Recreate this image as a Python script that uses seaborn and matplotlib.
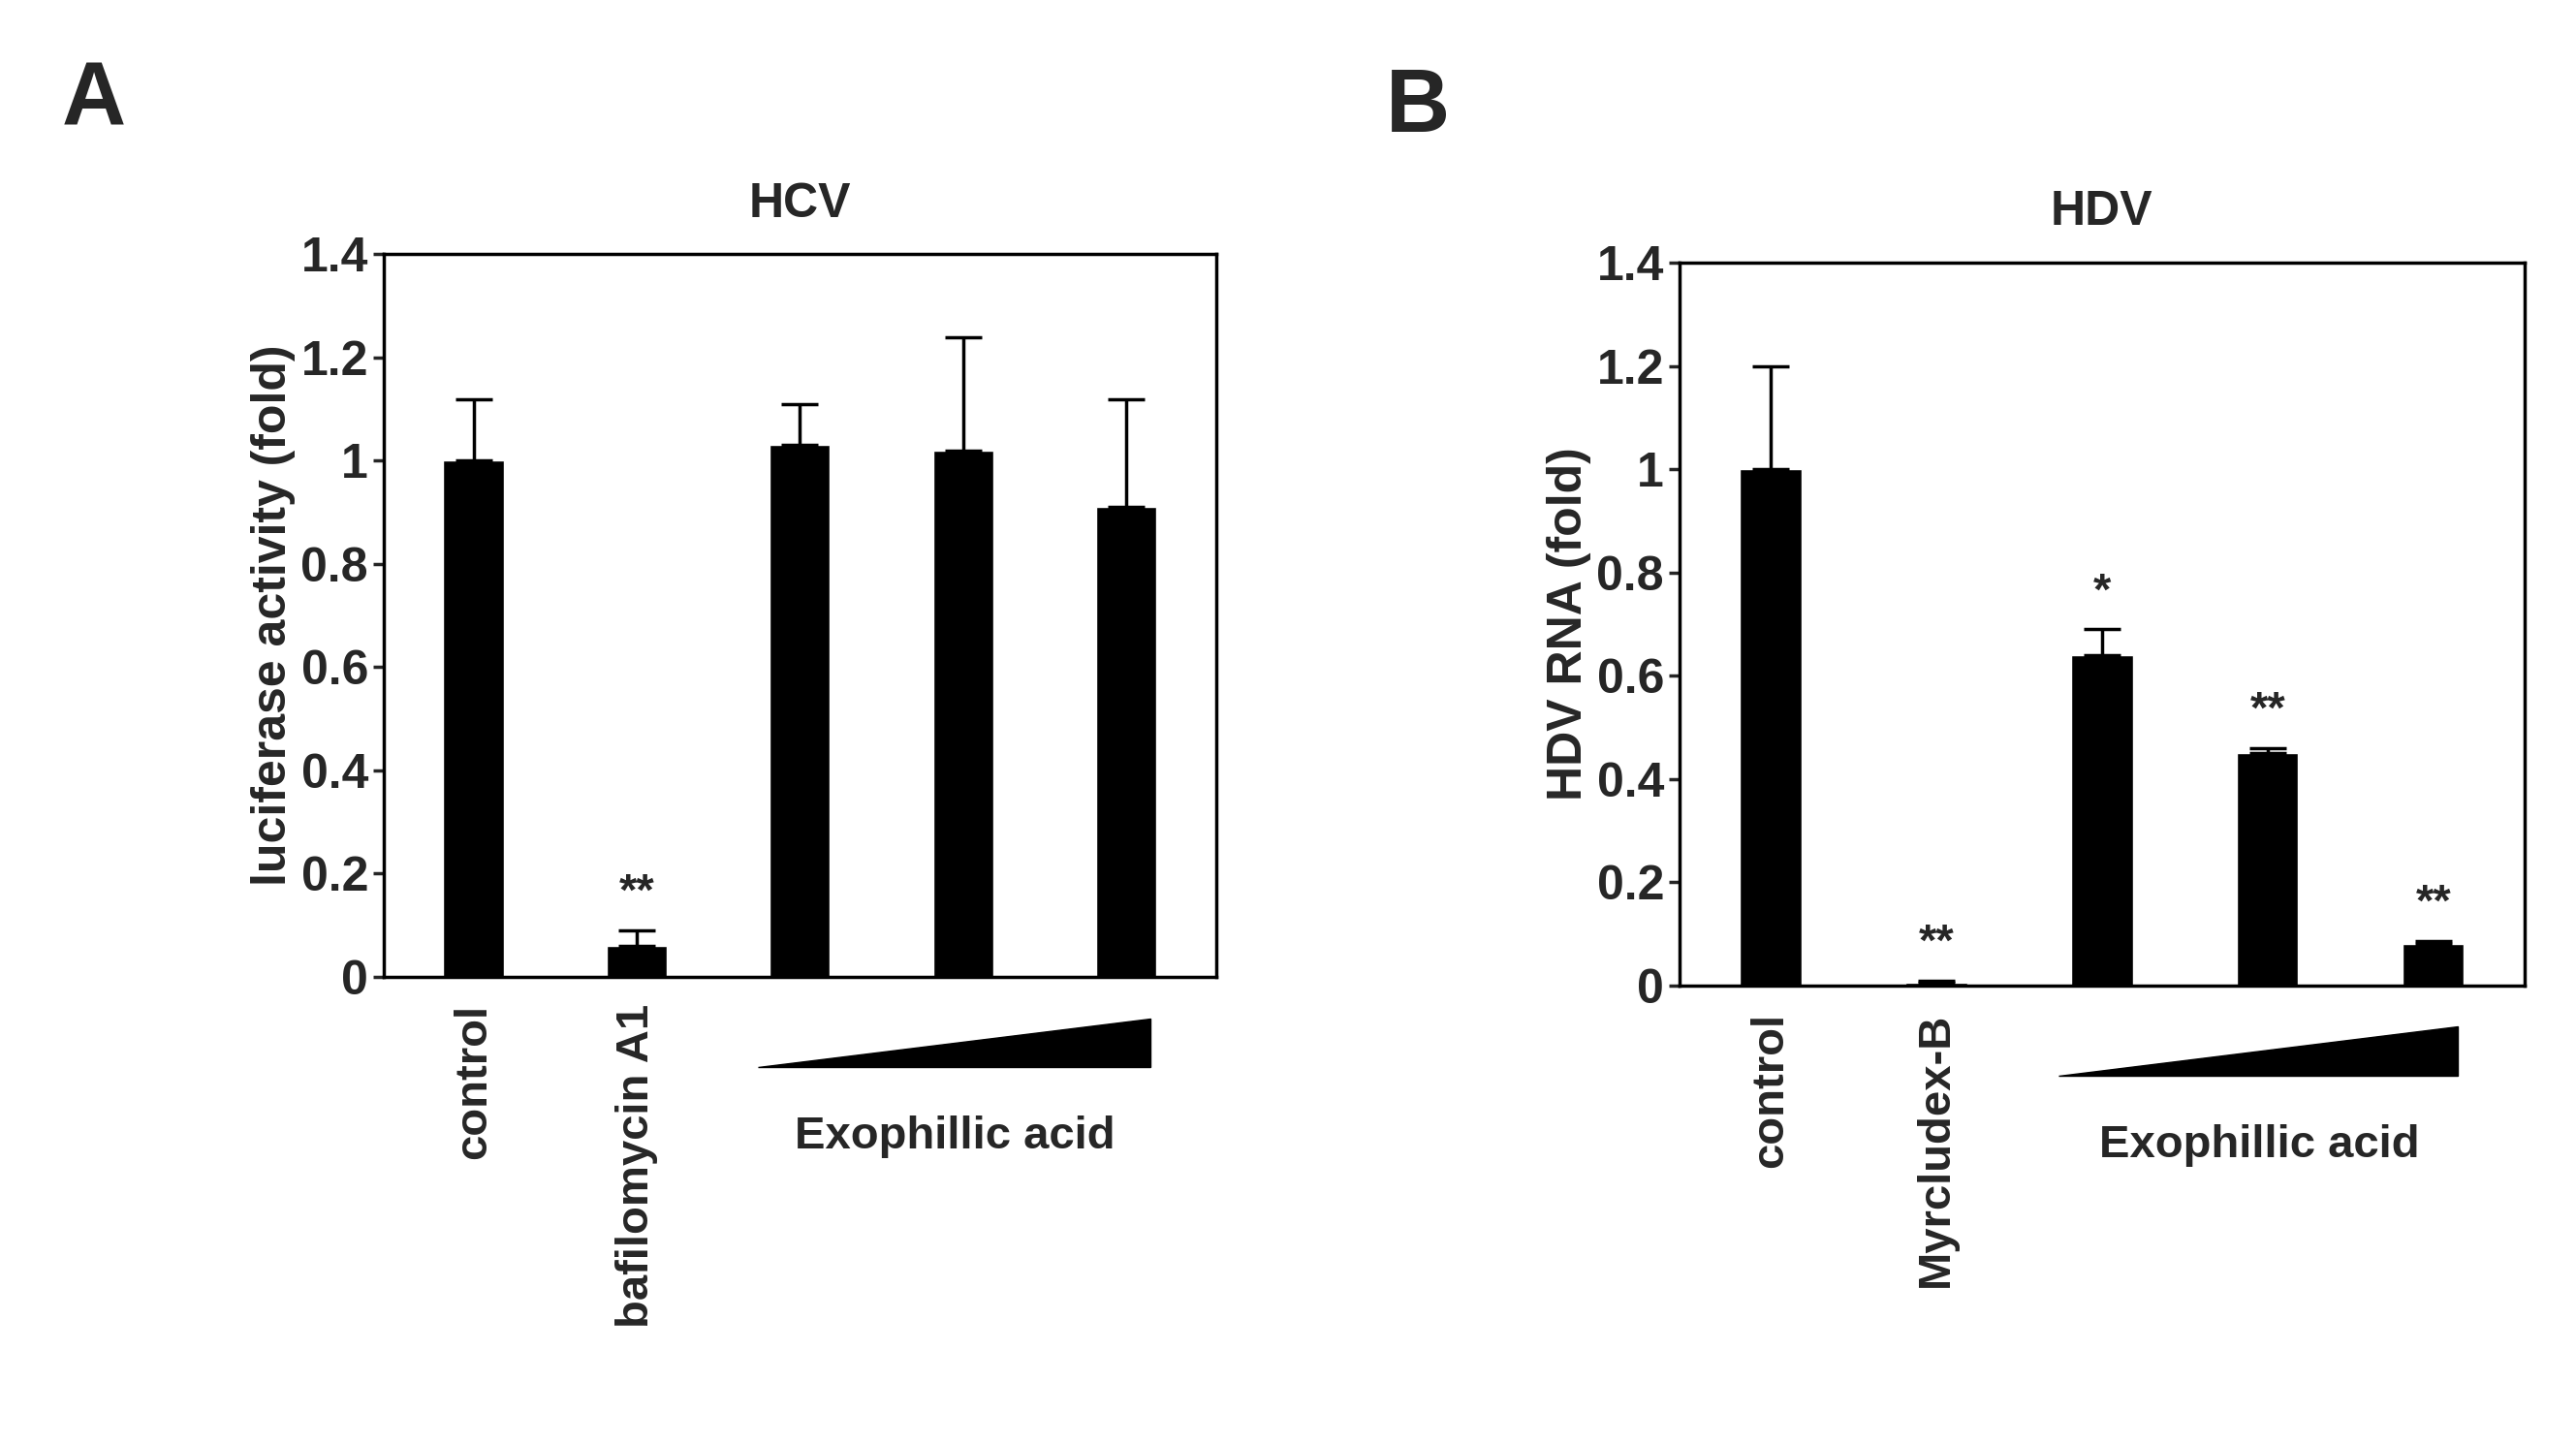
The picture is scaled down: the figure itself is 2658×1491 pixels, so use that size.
import numpy as np
import pandas as pd
import matplotlib
matplotlib.use("Agg")
import matplotlib.pyplot as plt
import seaborn as sns

# panel A: HCV
hcv_labels = ["control", "bafilomycin A1", "ex1", "ex2", "ex3"]
hcv_values = [1.0, 0.06, 1.03, 1.02, 0.91]
hcv_err = [0.12, 0.03, 0.08, 0.22, 0.21]
hcv_stars = ["", "**", "", "", ""]

# panel B: HDV
hdv_labels = ["control", "Myrcludex-B", "ex1", "ex2", "ex3"]
hdv_values = [1.0, 0.005, 0.64, 0.45, 0.08]
hdv_err = [0.2, 0.004, 0.05, 0.01, 0.006]
hdv_stars = ["", "**", "*", "**", "**"]

sns.set_style("white")
plt.rcParams["font.family"] = ["Liberation Sans", "DejaVu Sans"]
plt.rcParams["font.weight"] = "bold"

fig = plt.figure(figsize=(26.58, 14.91), dpi=100)
axA = fig.add_axes([0.149, 0.324, 0.323, 0.500])
axB = fig.add_axes([0.652, 0.318, 0.328, 0.500])


def panel(ax, labels, values, err, stars, title, ylabel, letter, lx, ly):
    df = pd.DataFrame({"cond": labels, "val": values})
    sns.barplot(data=df, x="cond", y="val", color="black", width=0.37,
                saturation=1, ax=ax, errorbar=None)
    x = np.arange(len(values))
    ax.errorbar(x, values, yerr=[np.zeros(len(err)), err], fmt="none",
                ecolor="black", elinewidth=2.5, capsize=14, capthick=2.5)
    for xi, v, e, s in zip(x, values, err, stars):
        if s:
            ax.text(xi, v + e + 0.03, s, ha="center", va="bottom", fontsize=34, fontweight="bold")
    ax.set_ylim(0, 1.4)
    ax.set_xlim(-0.55, 4.55)
    ax.set_yticks(np.arange(0, 1.41, 0.2))
    ax.set_yticklabels(["0", "0.2", "0.4", "0.6", "0.8", "1", "1.2", "1.4"])
    ax.tick_params(axis="y", labelsize=36, length=8, width=2.5, direction="out", left=True)
    ax.set_xticks([0, 1])
    ax.set_xticklabels(labels[:2], rotation=90, fontsize=34, fontweight="bold")
    ax.tick_params(axis="x", length=0, pad=20)
    ax.set_xlabel("")
    ax.set_ylabel(ylabel, fontsize=36, fontweight="bold")
    ax.set_title(title, fontsize=36, fontweight="bold", pad=28)
    for sp in ax.spines.values():
        sp.set_linewidth(2.5)
        sp.set_color("black")
    tri = plt.Polygon([[1.74, -0.175], [4.15, -0.175], [4.15, -0.08]],
                      closed=True, color="black", clip_on=False)
    ax.add_patch(tri)
    ax.text(2.95, -0.31, "Exophillic acid", ha="center", va="center",
            fontsize=34, fontweight="bold")
    fig.text(lx, ly, letter, fontsize=66, fontweight="bold", ha="left", va="center")


panel(axA, hcv_labels, hcv_values, hcv_err, hcv_stars, "HCV",
      "luciferase activity (fold)", "A", 0.024, 0.93)
panel(axB, hdv_labels, hdv_values, hdv_err, hdv_stars, "HDV",
      "HDV RNA (fold)", "B", 0.538, 0.925)

fig.savefig("out.png", dpi=100)
